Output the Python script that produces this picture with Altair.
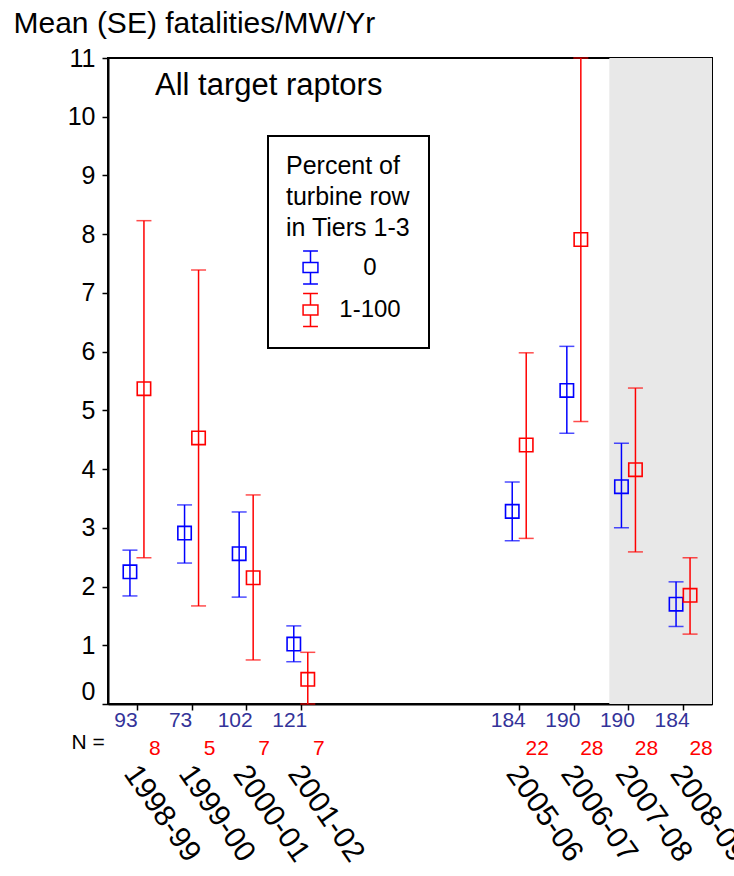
import altair as alt
import pandas as pd

# ---- data ----
years = [1998, 1999, 2000, 2001, 2005, 2006, 2007, 2008]
seasons = ["1998-99", "1999-00", "2000-01", "2001-02",
           "2005-06", "2006-07", "2007-08", "2008-09"]
groups = ["0", "1-100"]

blue_mean = [2.25, 2.91, 2.56, 1.02, 3.28, 5.34, 3.70, 1.70]
blue_lo = [1.84, 2.40, 1.82, 0.72, 2.78, 4.61, 3.00, 1.32]
blue_hi = [2.62, 3.39, 3.27, 1.33, 3.78, 6.09, 4.44, 2.08]

red_mean = [5.37, 4.53, 2.15, 0.42, 4.41, 7.91, 3.99, 1.85]
red_lo = [2.49, 1.67, 0.75, 0.00, 2.82, 4.81, 2.59, 1.19]
red_hi = [8.23, 7.39, 3.56, 0.88, 5.98, 11.00, 5.38, 2.49]

n_blue = [93, 73, 102, 121, 184, 190, 190, 184]
n_red = [8, 5, 7, 7, 22, 28, 28, 28]

y_ticks = list(range(0, 12))
x_domain = [1997.47, 2008.53]
shade_start = [2006.65]

FONT = "Liberation Sans"
BLUE = "#0000FF"
RED = "#FF0000"
N_BLUE = "#333399"
COLORS = [BLUE, RED]

W, H = 604, 646

rows = []
for g, m, lo, hi, n in [(groups[0], blue_mean, blue_lo, blue_hi, n_blue),
                        (groups[1], red_mean, red_lo, red_hi, n_red)]:
    for i, y in enumerate(years):
        rows.append({"group": g, "year": y, "season": seasons[i],
                     "mean": m[i], "lo": lo[i], "hi": hi[i], "n": n[i]})
df = pd.DataFrame(rows)

label_expr = "''"
for y, s in reversed(list(zip(years, seasons))):
    label_expr = f"datum.value == {y} ? '{s}' : ({label_expr})"

xscale = alt.Scale(domain=x_domain, nice=False, zero=False)
yscale = alt.Scale(domain=[0, 11], nice=False, zero=False)
cscale = alt.Scale(domain=groups, range=COLORS)

x_axis = alt.Axis(values=years, labelExpr=label_expr, labelAngle=55,
                  labelAlign="left", labelBaseline="middle", labelFontSize=30,
                  labelPadding=58, labelOffset=-7, tickSize=6, title=None,
                  labelOverlap=False, labelFlush=False, grid=False)
y_axis = alt.Axis(values=y_ticks, format="d", title="Mean (SE) fatalities/MW/Yr",
                  titleAngle=0, titleX=-95, titleY=-26, titleAlign="left",
                  titleBaseline="alphabetic", titleFontSize=30,
                  titleFontWeight="normal", labelFontSize=25,
                  labelBaseline={"condition": {"test": "datum.value == 0", "value": "bottom"},
                                 "value": "middle"},
                  tickSize=6, labelPadding=7, grid=False)

legend = alt.Legend(
    title=["Percent of", "turbine row", "in Tiers 1-3"],
    orient="none", legendX=160, legendY=78,
    strokeColor="black", padding=18,
    titleFontSize=25, titleFontWeight="normal", titleLineHeight=31,
    titlePadding=9, titleColor="black",
    labelFontSize=24, labelColor="black", labelAlign="center", labelOffset=42,
    symbolType="M-0.45,-0.3H0.45V0.3H-0.45Z M0,-1V-0.3 M0,0.3V1 M-0.45,-1H0.45 M-0.45,1H0.45",
    symbolSize=1089, symbolStrokeWidth=1.5, symbolOffset=7, rowPadding=3.5,
    symbolFillColor="transparent", symbolOpacity=1,
)
color = alt.Color("group:N", scale=cscale, legend=legend, title=None)

base = alt.Chart(df)

shade = alt.Chart(pd.DataFrame({"start": shade_start})).mark_rect(color="#E8E8E8").encode(
    x=alt.X("start:Q", scale=xscale, axis=x_axis),
    x2=alt.value(W),
    y=alt.value(0),
    y2=alt.value(H),
)

layers = [shade]
for g, off, col in [(groups[0], -7, COLORS[0]), (groups[1], 7, COLORS[1])]:
    sub = base.transform_filter(alt.datum.group == g)
    layers.append(sub.mark_rule(strokeWidth=1.5, xOffset=off, color=col).encode(
        x=alt.X("year:Q", scale=xscale, axis=x_axis),
        y=alt.Y("lo:Q", scale=yscale, axis=y_axis), y2="hi:Q"))
    for f in ["lo", "hi"]:
        layers.append(sub.mark_tick(orient="horizontal", size=15, thickness=1.5,
                                    xOffset=off, color=col).encode(
            x=alt.X("year:Q", scale=xscale), y=alt.Y(f"{f}:Q", scale=yscale)))
    layers.append(sub.mark_point(shape="square", filled=False, size=180,
                                 strokeWidth=1.6, opacity=1, xOffset=off).encode(
        x=alt.X("year:Q", scale=xscale), y=alt.Y("mean:Q", scale=yscale),
        color=color))

# N labels
layers.append(base.transform_filter(alt.datum.group == groups[0]).mark_text(
    fontSize=21, color=N_BLUE, dx=-11, baseline="middle").encode(
    x=alt.X("year:Q", scale=xscale), y=alt.value(663), text="n:Q"))
layers.append(base.transform_filter(alt.datum.group == groups[1]).mark_text(
    fontSize=21, color=RED, dx=18, baseline="middle").encode(
    x=alt.X("year:Q", scale=xscale), y=alt.value(691), text="n:Q"))
layers.append(alt.Chart(pd.DataFrame({"t": ["N ="]})).mark_text(
    fontSize=21, color="black", baseline="middle", align="center").encode(
    x=alt.value(-20), y=alt.value(685), text="t:N"))
layers.append(alt.Chart(pd.DataFrame({"t": ["All target raptors"]})).mark_text(
    fontSize=31, color="black", baseline="alphabetic", align="left").encode(
    x=alt.value(47), y=alt.value(37), text="t:N"))

chart = alt.layer(*layers).properties(
    width=W, height=H,
    padding={"left": 108, "top": 58, "right": 22, "bottom": 172},
    autosize=alt.AutoSizeParams(type="none"),
).configure(font=FONT).configure_view(
    stroke="black", strokeWidth=2
).configure_axis(
    domainColor="black", domainWidth=2, tickColor="black", tickWidth=1.5,
    labelColor="black", titleColor="black", labelFont=FONT, titleFont=FONT
).configure_legend(
    strokeWidth=2, labelFont=FONT, titleFont=FONT
)

chart.save("out.html", embed_options={"renderer": "svg", "actions": False})
